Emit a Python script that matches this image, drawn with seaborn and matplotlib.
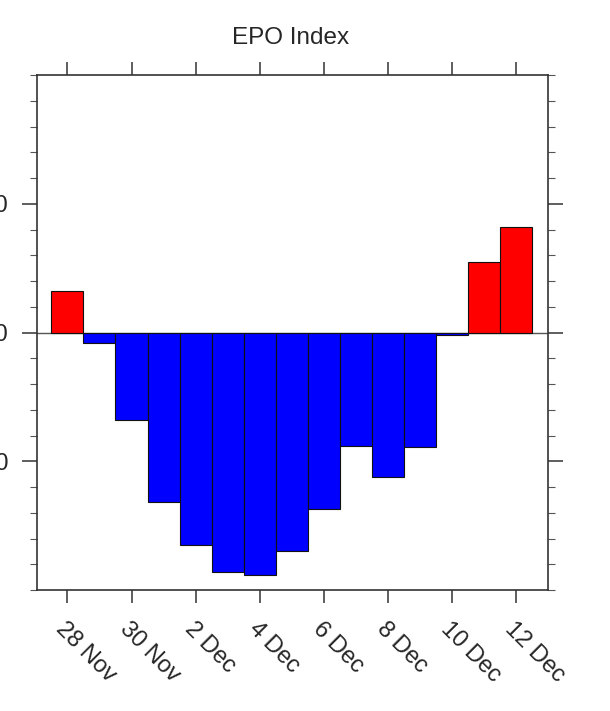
import matplotlib
matplotlib.use("Agg")
import matplotlib.pyplot as plt
import seaborn as sns
import numpy as np
import pandas as pd
from matplotlib.ticker import MultipleLocator, FixedLocator

# Data
days = ["28 Nov", "29 Nov", "30 Nov", "1 Dec", "2 Dec", "3 Dec", "4 Dec", "5 Dec",
        "6 Dec", "7 Dec", "8 Dec", "9 Dec", "10 Dec", "11 Dec", "12 Dec"]
epo = [0.32, -0.08, -0.68, -1.32, -1.65, -1.86, -1.88, -1.70,
       -1.37, -0.88, -1.12, -0.89, -0.02, 0.55, 0.82]
xtick_labels = ["28 Nov", "30 Nov", "2 Dec", "4 Dec", "6 Dec", "8 Dec", "10 Dec", "12 Dec"]
ytick_values = [-1.0, 0.0, 1.0]
ytick_labels = ["-1.0", "0.0", "1.0"]

df = pd.DataFrame({"day": days, "epo": epo})
df["sign"] = np.where(df["epo"] >= 0, "pos", "neg")

sns.set_style("white")
plt.rcParams["font.family"] = ["Liberation Sans", "DejaVu Sans"]

fig = plt.figure(figsize=(6.10, 7.11), dpi=100)
ax = fig.add_axes([37 / 610, 121 / 711, 511 / 610, 515 / 711])

ax.axhline(0, color="#555555", lw=1.0, zorder=0.5)
sns.barplot(data=df, x="day", y="epo", hue="sign", order=days,
            palette={"pos": "#ff0000", "neg": "#0000ff"}, dodge=False,
            width=1.0, edgecolor="#111111", linewidth=0.8, legend=False,
            saturation=1.0, ax=ax, zorder=2)

ax.set_xlim(-0.95, 15.0)
ax.set_ylim(-2.0, 2.0)

ax.xaxis.set_major_locator(FixedLocator(list(range(0, 15, 2))))
ax.set_xticklabels(xtick_labels, rotation=-45, ha="left", va="top",
                   rotation_mode="anchor", fontsize=17)
ax.set_yticks(ytick_values)
ax.set_yticklabels(ytick_labels, fontsize=17)
ax.yaxis.set_minor_locator(MultipleLocator(0.2))

ax.tick_params(axis="x", which="major", direction="out", length=9.5, width=1.1,
               color="#333333", top=True, bottom=True, pad=11)
ax.tick_params(axis="y", which="major", direction="out", length=10.8, width=1.1,
               color="#333333", left=True, right=True, pad=10)
ax.tick_params(axis="y", which="minor", direction="out", length=5, width=0.8,
               color="#555555", left=True, right=True)

for s in ax.spines.values():
    s.set_visible(True)
    s.set_color("#333333")
    s.set_linewidth(1.2)

ax.set_xlabel("")
ax.set_ylabel("")
fig.text(291 / 610, 1 - 38 / 711, "EPO Index", ha="center", va="center", fontsize=17.5)

fig.savefig("out.png", dpi=100)
